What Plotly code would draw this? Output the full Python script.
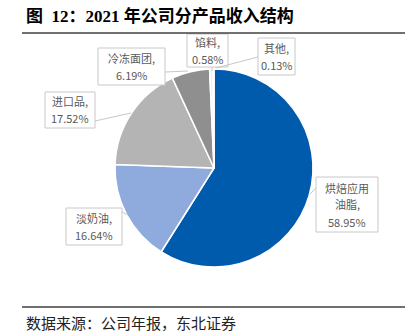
import plotly.graph_objects as go

W, H = 418, 336
categories = ["烘焙应用油脂", "淡奶油", "进口品", "冷冻面团", "馅料", "其他"]
values = [58.95, 16.64, 17.52, 6.19, 0.58, 0.13]
colors = ["#005BAC", "#8FAADC", "#B4B4B4", "#8F8F8F", "#F2F2F2", "#404040"]
label_lines = [["烘焙应用", "油脂,", "58.95%"], ["淡奶油,", "16.64%"], ["进口品,", "17.52%"],
               ["冷冻面团,", "6.19%"], ["馅料,", "0.58%"], ["其他,", "0.13%"]]
# box (x0, y0, x1, y1) and leader (from_x, from_y, tip_x, tip_y) in pixels
label_box = [(316, 177, 378, 232), (66, 208, 122, 245), (45, 92, 95, 128),
             (98, 48, 165, 85), (187, 34, 228, 67), (258, 38, 295, 75)]
label_leader = [(316, 188, 310, 194), (122, 212, 128, 215), (95, 121, 131, 113),
                (165, 72, 188, 71), (212, 67, 212, 71), (258, 57, 216, 68)]

cx, cy, r = 214, 168, 99
fig = go.Figure(go.Pie(
    labels=categories, values=values, sort=False, direction="clockwise", rotation=0,
    marker=dict(colors=colors, line=dict(color="white", width=1.5)),
    textinfo="none", hoverinfo="label+percent", showlegend=False,
    domain=dict(x=[(cx - r) / W, (cx + r) / W], y=[(H - cy - r) / H, (H - cy + r) / H]),
))

def px(x):
    return x / W

def py(y):
    return 1 - y / H

anns, shapes = [], []
LINE_H = 17
for lines, (x0, y0, x1, y1), (fx, fy, tx, ty) in zip(label_lines, label_box, label_leader):
    shapes.append(dict(type="line", xref="paper", yref="paper", x0=px(fx), y0=py(fy), x1=px(tx), y1=py(ty),
                       line=dict(color="#C8C8C8", width=1)))
    shapes.append(dict(type="rect", xref="paper", yref="paper", x0=px(x0), y0=py(y0), x1=px(x1), y1=py(y1),
                       fillcolor="white", line=dict(color="#C8C8C8", width=1)))
    mid = (y0 + y1) / 2
    n = len(lines)
    for i, t in enumerate(lines):
        yy = mid + (i - (n - 1) / 2) * LINE_H
        anns.append(dict(x=px((x0 + x1) / 2), y=py(yy), xref="paper", yref="paper",
                         xanchor="center", yanchor="middle", text=t, showarrow=False,
                         font=dict(family="Noto Sans CJK SC", size=11, color="#595959")))

anns.append(dict(x=px(24), y=py(16), xref="paper", yref="paper", xanchor="left", yanchor="middle",
                 text="<b>图  12：2021 年公司分产品收入结构</b>", showarrow=False,
                 font=dict(family="Liberation Serif, Noto Sans CJK SC", size=17, color="#000000")))
anns.append(dict(x=px(24), y=py(322), xref="paper", yref="paper", xanchor="left", yanchor="middle",
                 text="数据来源：公司年报，东北证券", showarrow=False,
                 font=dict(family="Noto Sans CJK SC", size=15, color="#222222")))

shapes += [
    dict(type="line", xref="paper", yref="paper", x0=px(22), x1=px(405), y0=py(33), y1=py(33),
         line=dict(color="#404040", width=1.5)),
    dict(type="line", xref="paper", yref="paper", x0=px(22), x1=px(405), y0=py(307), y1=py(307),
         line=dict(color="#404040", width=1.5)),
]

fig.update_layout(width=W, height=H, margin=dict(l=0, r=0, t=0, b=0),
                  paper_bgcolor="white", plot_bgcolor="white",
                  annotations=anns, shapes=shapes)
fig.write_html("out.html")
